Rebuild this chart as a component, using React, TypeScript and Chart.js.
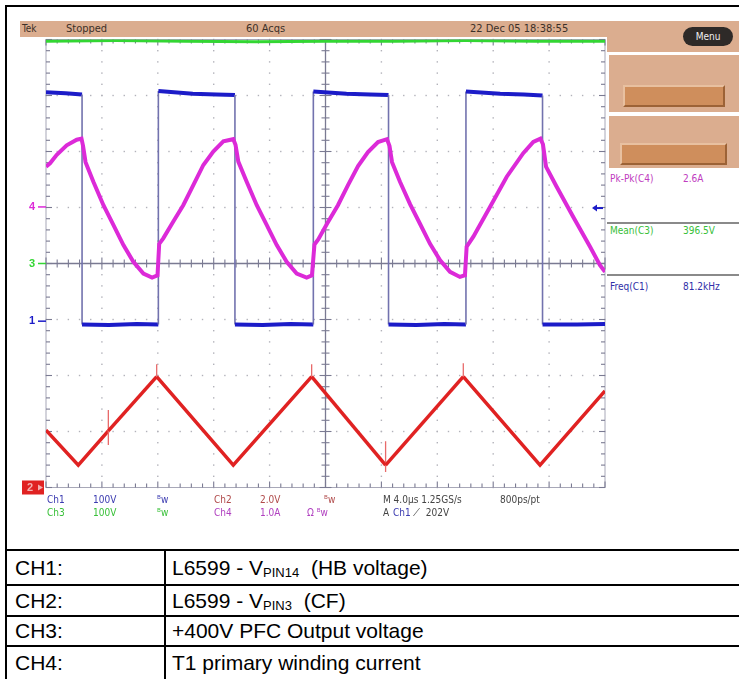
import React, { useEffect, useRef } from 'react';
import { Chart, registerables } from 'chart.js';

Chart.register(...registerables);

// ---- Oscilloscope settings ----
const ch1Scale = 100; // V/div
const ch1Pos = -1.03; // div
const ch2Scale = 2; // V/div
const ch2Pos = -4;
const ch3Scale = 100; // V/div
const ch3Pos = 0;
const ch4Scale = 1; // A/div
const ch4Pos = 1.01;
const triggerLevel = 202; // V on Ch1

// graticule (4 µs/div, 8 vertical divisions)
const divTimes = [-20, -16, -12, -8, -4, 0, 4, 8, 12, 16, 20];
const divLevels = [-4, -3, -2, -1, 0, 1, 2, 3, 4];

// ---- CH1: half-bridge voltage (µs, V) ----
const ch1Time = [-20, -18.6, -17.42, -17.42, -15.5, -13.5, -11.96, -11.96, -9.5, -7.8, -6.48, -6.48, -4.5, -2.5, -0.87, -0.87, 1.5, 3.2, 4.51, 4.51, 6.5, 8.5, 10.05, 10.05, 12.5, 14.2, 15.53, 15.53, 18, 20];
const ch1Volts = [409, 407, 405, -6, -7, -5, -6, 411, 406, 405, 404, -6, -7, -5, -6, 410, 406, 405, 404, -6, -7, -5, -6, 410, 406, 405, 403, -6, -6, -5];

// ---- CH2: CF pin voltage (µs, V) ----
const ch2Time = [-20, -17.69, -15.54, -15.54, -15.54, -15.54, -12.08, -12.08, -12.08, -6.6, -0.99, -0.99, -0.99, 4.3, 4.3, 4.3, 4.3, 9.86, 9.86, 9.86, 15.35, 20];
const ch2Volts = [2.05, 0.8, 2.02, 2.77, 1.52, 2.02, 3.96, 4.4, 3.96, 0.8, 3.96, 4.4, 3.96, 0.8, 1.65, 0.55, 0.8, 3.96, 4.44, 3.96, 0.8, 3.45];

// ---- CH3: PFC output voltage (µs, V) ----
const ch3Time = [-20, -15, -10, -5, 0, 5, 10, 15, 20];
const ch3Volts = [397, 398, 397, 396, 397, 397, 398, 397, 397];

// ---- CH4: T1 primary current (µs, A) ----
const ch4Time = [-20, -19.71, -19.23, -18.52, -17.8, -17.46, -17.35, -17.17, -16.61, -15.89, -15.18, -14.46, -13.75, -13.03, -12.41, -12.02, -11.9, -11.61, -10.89, -10.18, -9.46, -8.74, -8.03, -7.31, -6.6, -6.44, -6.24, -5.64, -4.92, -4.21, -3.49, -2.78, -2.06, -1.35, -0.97, -0.79, -0.52, 0.18, 0.89, 1.61, 2.33, 3.04, 3.76, 4.4, 4.58, 4.76, 5.33, 6.05, 6.76, 7.48, 8.19, 8.91, 9.62, 9.98, 10.1, 10.58, 11.77, 12.97, 14.15, 14.87, 15.38, 15.56, 15.78, 16.54, 17.73, 18.93, 19.64, 20];
const ch4Amps = [0.72, 0.78, 0.93, 1.1, 1.2, 1.22, 1.09, 0.8, 0.45, 0.03, -0.32, -0.68, -0.98, -1.19, -1.26, -1.22, -0.66, -0.56, -0.26, 0.03, 0.39, 0.75, 0.99, 1.17, 1.21, 1.11, 0.81, 0.45, 0.03, -0.32, -0.68, -0.98, -1.19, -1.26, -1.22, -0.67, -0.58, -0.27, 0.03, 0.39, 0.73, 0.98, 1.16, 1.21, 1.09, 0.8, 0.45, 0.05, -0.3, -0.66, -0.95, -1.16, -1.25, -1.22, -0.71, -0.53, 0.0, 0.54, 0.96, 1.16, 1.22, 1.12, 0.72, 0.36, -0.18, -0.71, -1.04, -1.16];

// ---- Texts ----
const headerTexts = ['Tek', 'Stopped', '60 Acqs', '22 Dec 05 18:38:55'];
const measureNames = ['Pk-Pk(C4)', 'Mean(C3)', 'Freq(C1)'];
const measureValues = ['2.6A', '396.5V', '81.2kHz'];
const tableChannels = ['CH1:', 'CH2:', 'CH3:', 'CH4:'];
const tableMain = ['L6599 - V', 'L6599 - V', '+400V PFC Output voltage', 'T1 primary winding current'];
const tableSub = ['PIN14', 'PIN3', '', ''];
const tableTail = ['  (HB voltage)', '  (CF)', '', ''];

const C1 = '#1c1cc8';
const C2 = '#e02222';
const C3 = '#33d633';
const C4 = '#dc2ad8';

const graticule = {
  id: 'graticule',
  beforeDatasetsDraw(chart: any) {
    const { ctx, chartArea: a, scales } = chart;
    const px = (t: number) => scales.x.getPixelForValue(t);
    const py = (d: number) => scales.y.getPixelForValue(d);
    const seg = (x1: number, y1: number, x2: number, y2: number) => {
      ctx.beginPath();
      ctx.moveTo(x1, y1);
      ctx.lineTo(x2, y2);
      ctx.stroke();
    };
    ctx.save();
    ctx.fillStyle = '#b2b2ba';
    divTimes.forEach((t, i) => {
      if (i === 0 || i === divTimes.length - 1 || t === 0) return;
      for (let k = 0; k <= 40; k++) {
        const yy = py(-4 + k * 0.2);
        ctx.fillRect(px(t) - 0.7, yy - 0.7, 1.4, 1.4);
      }
    });
    divLevels.forEach((d, i) => {
      if (i === 0 || i === divLevels.length - 1 || d === 0) return;
      for (let k = 0; k <= 50; k++) {
        const xx = px(-20 + k * 0.8);
        ctx.fillRect(xx - 0.7, py(d) - 0.7, 1.4, 1.4);
      }
    });
    ctx.strokeStyle = '#a8a8b8';
    ctx.lineWidth = 1;
    ctx.strokeRect(a.left, a.top, a.right - a.left, a.bottom - a.top);
    ctx.strokeStyle = '#7a7a92';
    ctx.lineWidth = 1.3;
    seg(px(0), a.top, px(0), a.bottom);
    seg(a.left, py(0), a.right, py(0));
    ctx.lineWidth = 1.1;
    for (let k = 0; k <= 50; k++) {
      const xx = px(-20 + k * 0.8);
      const len = k % 5 === 0 ? 6 : 4;
      seg(xx, py(0) - len, xx, py(0) + len);
      seg(xx, a.bottom, xx, a.bottom - len);
      seg(xx, a.top, xx, a.top + len);
    }
    for (let k = 0; k <= 40; k++) {
      const yy = py(-4 + k * 0.2);
      const len = k % 5 === 0 ? 6 : 4;
      seg(px(0) - len, yy, px(0) + len, yy);
      seg(a.left, yy, a.left + len, yy);
      seg(a.right, yy, a.right - len, yy);
    }
    ctx.restore();
  },
  afterDatasetsDraw(chart: any) {
    const { ctx, chartArea: a, scales } = chart;
    const py = (d: number) => scales.y.getPixelForValue(d);
    ctx.save();
    ctx.font = 'bold 11px "Liberation Sans", sans-serif';
    ctx.textBaseline = 'middle';
    const marker = (label: string, pos: number, color: string) => {
      const y = py(pos);
      ctx.fillStyle = color;
      ctx.fillText(label, 29, y);
      ctx.strokeStyle = color;
      ctx.lineWidth = 1.5;
      ctx.beginPath();
      ctx.moveTo(38, y);
      ctx.lineTo(a.left, y);
      ctx.stroke();
    };
    marker('4', ch4Pos, C4);
    marker('3', ch3Pos, C3);
    marker('1', ch1Pos, C1);
    const y2 = py(ch2Pos);
    ctx.fillStyle = C2;
    ctx.fillRect(22, y2 - 7, 22, 14);
    ctx.fillStyle = '#f3b0b0';
    ctx.fillText('2', 27, y2);
    ctx.beginPath();
    ctx.moveTo(43, y2);
    ctx.lineTo(38, y2 - 3);
    ctx.lineTo(38, y2 + 3);
    ctx.closePath();
    ctx.fill();
    const yt = py(triggerLevel / ch1Scale + ch1Pos);
    ctx.strokeStyle = C1;
    ctx.fillStyle = C1;
    ctx.lineWidth = 2;
    ctx.beginPath();
    ctx.moveTo(a.right - 2, yt);
    ctx.lineTo(a.right - 9, yt);
    ctx.stroke();
    ctx.beginPath();
    ctx.moveTo(a.right - 13, yt);
    ctx.lineTo(a.right - 8, yt - 3.5);
    ctx.lineTo(a.right - 8, yt + 3.5);
    ctx.closePath();
    ctx.fill();
    ctx.restore();
  },
};

const scopeFont = '"Liberation Sans Narrow", "DejaVu Sans Condensed", "Liberation Sans", sans-serif';

function T(props: { x: number; y: number; color: string; text: string; size?: number }) {
  return (
    <span
      style={{
        position: 'absolute',
        left: props.x,
        top: props.y,
        color: props.color,
        fontSize: props.size ?? 10,
        lineHeight: '12px',
        whiteSpace: 'pre',
        fontFamily: scopeFont,
      }}
    >
      {props.text}
    </span>
  );
}

export default function App() {
  const ref = useRef<HTMLCanvasElement>(null);

  useEffect(() => {
    const pts = (t: number[], v: number[], scale: number, pos: number) =>
      t.map((x, i) => ({ x, y: v[i] / scale + pos }));
    const vertical = (c: any) => Math.abs(c.p0.x - c.p1.x) < 0.6;
    const chart = new Chart(ref.current as HTMLCanvasElement, {
      type: 'scatter',
      data: {
        datasets: [
          {
            label: 'CH4',
            data: pts(ch4Time, ch4Amps, ch4Scale, ch4Pos),
            showLine: true,
            borderColor: C4,
            borderWidth: 4,
            pointRadius: 0,
            order: 0,
          },
          {
            label: 'CH3',
            data: pts(ch3Time, ch3Volts, ch3Scale, ch3Pos),
            showLine: true,
            borderColor: C3,
            borderWidth: 3,
            pointRadius: 0,
            order: 1,
          },
          {
            label: 'CH2',
            data: pts(ch2Time, ch2Volts, ch2Scale, ch2Pos),
            showLine: true,
            borderColor: C2,
            borderWidth: 3.5,
            pointRadius: 0,
            order: 2,
            segment: {
              borderWidth: (c: any) => (vertical(c) ? 1.3 : undefined),
              borderColor: (c: any) => (vertical(c) ? '#e86a6a' : undefined),
            },
          },
          {
            label: 'CH1',
            data: pts(ch1Time, ch1Volts, ch1Scale, ch1Pos),
            showLine: true,
            borderColor: C1,
            borderWidth: 4,
            pointRadius: 0,
            order: 3,
            segment: {
              borderWidth: (c: any) => (vertical(c) ? 1.6 : undefined),
              borderColor: (c: any) => (vertical(c) ? '#7272ae' : undefined),
            },
          },
        ],
      } as any,
      options: {
        animation: false,
        responsive: false,
        maintainAspectRatio: false,
        layout: { padding: { left: 46, right: 134, top: 39.5, bottom: 52.5 } },
        scales: {
          x: { type: 'linear', min: -20, max: 20, display: false },
          y: { type: 'linear', min: -4, max: 4, display: false },
        },
        plugins: { legend: { display: false }, tooltip: { enabled: false } },
        elements: { line: { tension: 0 } },
      } as any,
      plugins: [graticule],
    });
    return () => chart.destroy();
  }, []);

  const tan = '#dbad8f';
  const rowTops = [549, 584, 615, 645];
  const rowHeights = [35, 31, 30, 34];

  return (
    <div
      style={{
        position: 'absolute',
        left: 0,
        top: 0,
        width: 739,
        height: 679,
        background: '#fff',
        overflow: 'hidden',
      }}
    >
      {/* header bar */}
      <div style={{ position: 'absolute', left: 20, top: 21, width: 719, height: 16, background: tan }} />
      {/* right panel */}
      <div style={{ position: 'absolute', left: 607, top: 21, width: 132, height: 31, background: tan }} />
      <div style={{ position: 'absolute', left: 609, top: 55, width: 130, height: 57, background: tan }} />
      <div style={{ position: 'absolute', left: 609, top: 116, width: 130, height: 52, background: tan }} />
      <div
        style={{
          position: 'absolute',
          left: 623,
          top: 85,
          width: 102,
          height: 22,
          background: '#cf8e5c',
          borderTop: '2px solid #e8c0a0',
          borderLeft: '2px solid #e8c0a0',
          borderRight: '2px solid #9c6236',
          borderBottom: '2px solid #9c6236',
          boxSizing: 'border-box',
        }}
      />
      <div
        style={{
          position: 'absolute',
          left: 620,
          top: 143,
          width: 107,
          height: 22,
          background: '#cf8e5c',
          borderTop: '2px solid #e8c0a0',
          borderLeft: '2px solid #e8c0a0',
          borderRight: '2px solid #9c6236',
          borderBottom: '2px solid #9c6236',
          boxSizing: 'border-box',
        }}
      />
      <div
        style={{
          position: 'absolute',
          left: 683,
          top: 27,
          width: 50,
          height: 19,
          borderRadius: 10,
          background: '#2e2a28',
          color: '#f0f0f0',
          fontSize: 10,
          lineHeight: '19px',
          textAlign: 'center',
          fontFamily: scopeFont,
        }}
      >
        Menu
      </div>
      <T x={22} y={23} color="#3c3028" text={headerTexts[0]} size={10} />
      <T x={66} y={23} color="#3c3028" text={headerTexts[1]} size={11} />
      <T x={246} y={23} color="#3c3028" text={headerTexts[2]} size={11} />
      <T x={470} y={23} color="#3c3028" text={headerTexts[3]} size={11} />

      {/* measurements */}
      <div style={{ position: 'absolute', left: 607, top: 222, width: 132, height: 1.5, background: '#8a8a8a' }} />
      <div style={{ position: 'absolute', left: 607, top: 274, width: 132, height: 1.5, background: '#8a8a8a' }} />
      <T x={610} y={173} color="#c03cc0" text={measureNames[0]} />
      <T x={683} y={173} color="#c03cc0" text={measureValues[0]} />
      <T x={610} y={225} color="#38c038" text={measureNames[1]} />
      <T x={683} y={225} color="#38c038" text={measureValues[1]} />
      <T x={610} y={281} color="#3030a8" text={measureNames[2]} />
      <T x={683} y={281} color="#3030a8" text={measureValues[2]} />

      <canvas
        ref={ref}
        width={739}
        height={540}
        style={{ position: 'absolute', left: 0, top: 0, width: 739, height: 540, display: 'block' }}
      />

      {/* channel readout */}
      <T x={47} y={494} color="#3a3ab0" text="Ch1" />
      <T x={93} y={494} color="#3a3ab0" text="100V" />
      <T x={157} y={494} color="#3a3ab0" text="ᴮw" />
      <T x={214} y={494} color="#b04a4a" text="Ch2" />
      <T x={260} y={494} color="#b04a4a" text="2.0V" />
      <T x={324} y={494} color="#b04a4a" text="ᴮw" />
      <T x={383} y={494} color="#444" text="M 4.0µs 1.25GS/s" />
      <T x={500} y={494} color="#444" text="800ps/pt" />
      <T x={47} y={507} color="#38c038" text="Ch3" />
      <T x={93} y={507} color="#38c038" text="100V" />
      <T x={157} y={507} color="#38c038" text="ᴮw" />
      <T x={214} y={507} color="#b040c0" text="Ch4" />
      <T x={260} y={507} color="#b040c0" text="1.0A" />
      <T x={307} y={507} color="#b040c0" text="Ω ᴮw" />
      <T x={383} y={507} color="#444" text="A" />
      <T x={393} y={507} color="#3a3ab0" text="Ch1" />
      <T x={413} y={507} color="#444" text="⟋  202V" />

      {/* outer frame */}
      <div style={{ position: 'absolute', left: 5, top: 5, width: 2, height: 674, background: '#000' }} />
      <div style={{ position: 'absolute', left: 5, top: 5, width: 734, height: 2, background: '#000' }} />

      {/* table */}
      {rowTops.map((top, i) => (
        <div key={i}>
          <div style={{ position: 'absolute', left: 5, top, width: 734, height: 2, background: '#000' }} />
          <div
            style={{
              position: 'absolute',
              left: 15,
              top: top + 2,
              height: rowHeights[i] - 2,
              display: 'flex',
              alignItems: 'center',
              fontFamily: '"Liberation Sans", Arial, sans-serif',
              fontSize: 21,
              color: '#000',
            }}
          >
            {tableChannels[i]}
          </div>
          <div
            style={{
              position: 'absolute',
              left: 172,
              top: top + 2,
              height: rowHeights[i] - 2,
              display: 'flex',
              alignItems: 'center',
              fontFamily: '"Liberation Sans", Arial, sans-serif',
              fontSize: 21,
              color: '#000',
              whiteSpace: 'pre',
            }}
          >
            <span>{tableMain[i]}</span>
            {tableSub[i] ? (
              <span style={{ fontSize: 13, position: 'relative', top: 5 }}>{tableSub[i]}</span>
            ) : null}
            {tableTail[i] ? <span>{tableTail[i]}</span> : null}
          </div>
        </div>
      ))}
      <div style={{ position: 'absolute', left: 164, top: 549, width: 2, height: 130, background: '#000' }} />
    </div>
  );
}
